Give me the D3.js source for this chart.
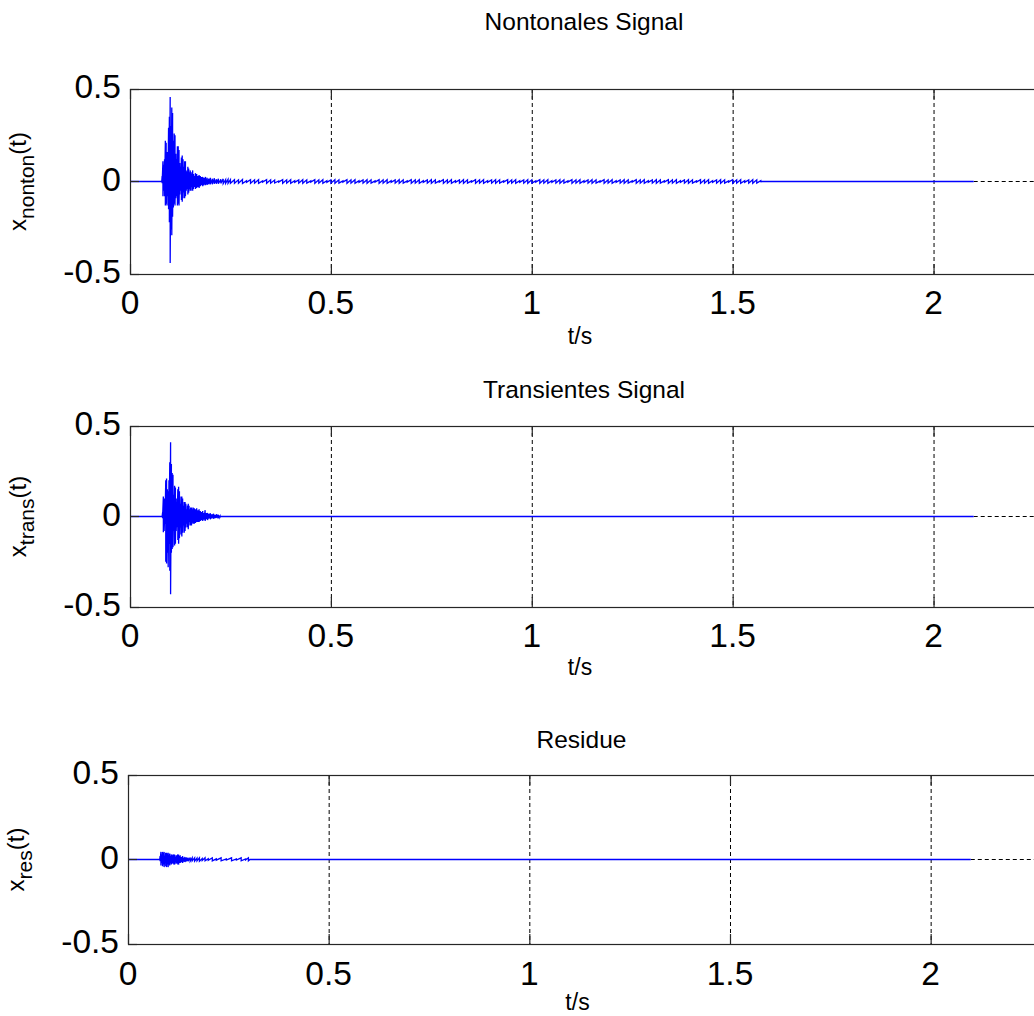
<!DOCTYPE html>
<html><head><meta charset="utf-8">
<script src="https://cdn.jsdelivr.net/npm/d3@7"></script>
<style>body{margin:0;background:#fff;overflow:hidden}</style>
</head><body>
<svg id="c" width="1034" height="1016"></svg>
<script>
// ---- shared axes data ----
const xTicks = [0, 0.5, 1, 1.5, 2];
const xTickLabels = ["0", "0.5", "1", "1.5", "2"];
const yTicks = [-0.5, 0, 0.5];
const yTickLabels = ["-0.5", "0", "0.5"];
const xDomain = [0, 2.26];
const yDomain = [-0.5, 0.5];
const signalEnd = 2.1;
const titles = ["Nontonales Signal", "Transientes Signal", "Residue"];
const ySubs = ["nonton", "trans", "res"];
const xLabel = "t/s";

// ---- Nontonales signal: oscillation peaks (time, upper, lower) ----
const nontonT = [0.080,0.082,0.084,0.086,0.088,0.090,0.092,0.094,0.096,0.098,0.100,0.102,0.104,0.106,0.108,0.110,0.112,0.114,0.116,0.118,0.120,0.122,0.124,0.126,0.128,0.130,0.132,0.134,0.136,0.138,0.140,0.142,0.144,0.146,0.148,0.150,0.152,0.154,0.156,0.158,0.160,0.163,0.166,0.169,0.172,0.175,0.178,0.181,0.184,0.188,0.192,0.196,0.200,0.205,0.210,0.215,0.220,0.226,0.232,0.238,0.244,0.250];
const nontonUp = [0.03,0.11,0.09,0.12,0.22,0.21,0.16,0.14,0.29,0.35,0.457,0.30,0.40,0.37,0.22,0.26,0.25,0.15,0.12,0.19,0.19,0.17,0.10,0.08,0.13,0.14,0.12,0.08,0.11,0.11,0.06,0.05,0.08,0.07,0.05,0.06,0.05,0.04,0.06,0.04,0.03,0.045,0.04,0.03,0.035,0.03,0.025,0.025,0.02,0.025,0.02,0.015,0.02,0.015,0.018,0.012,0.015,0.012,0.014,0.01,0.012,0.01];
const nontonLo = [-0.01,-0.08,-0.05,-0.08,-0.13,-0.12,-0.13,-0.08,-0.15,-0.22,-0.44,-0.26,-0.29,-0.19,-0.14,-0.12,-0.13,-0.09,-0.08,-0.13,-0.12,-0.13,-0.07,-0.05,-0.10,-0.11,-0.09,-0.06,-0.09,-0.08,-0.05,-0.04,-0.07,-0.06,-0.04,-0.05,-0.05,-0.03,-0.05,-0.04,-0.03,-0.04,-0.035,-0.03,-0.035,-0.025,-0.02,-0.025,-0.02,-0.02,-0.018,-0.015,-0.015,-0.015,-0.012,-0.012,-0.012,-0.01,-0.012,-0.01,-0.01,-0.01];
// low-level tail of the nontonal signal (time, amplitude of the small oscillation)
const nontonTailT = [0.26,0.27,0.28,0.29,0.30,0.31,0.32,0.33,0.34,0.35,0.36,0.37,0.38,0.39,0.40,0.41,0.42,0.43,0.44,0.45,0.46,0.47,0.48,0.49,0.50,0.51,0.52,0.53,0.54,0.55,0.56,0.57,0.58,0.59,0.60,0.61,0.62,0.63,0.64,0.65,0.66,0.67,0.68,0.69,0.70,0.71,0.72,0.73,0.74,0.75,0.76,0.77,0.78,0.79,0.80,0.81,0.82,0.83,0.84,0.85,0.86,0.87,0.88,0.89,0.90,0.91,0.92,0.93,0.94,0.95,0.96,0.97,0.98,0.99,1.00,1.01,1.02,1.03,1.04,1.05,1.06,1.07,1.08,1.09,1.10,1.11,1.12,1.13,1.14,1.15,1.16,1.17,1.18,1.19,1.20,1.21,1.22,1.23,1.24,1.25,1.26,1.27,1.28,1.29,1.30,1.31,1.32,1.33,1.34,1.35,1.36,1.37,1.38,1.39,1.40,1.41,1.42,1.43,1.44,1.45,1.46,1.47,1.48,1.49,1.50,1.51,1.52,1.53,1.54,1.55,1.56,1.57];
const nontonTailA = [0.010,0.009,0.011,0.004,0.010,0.009,0.010,0.003,0.010,0.009,0.008,0.003,0.010,0.009,0.010,0.004,0.009,0.010,0.009,0.003,0.010,0.009,0.010,0.004,0.009,0.010,0.009,0.003,0.010,0.009,0.010,0.004,0.009,0.010,0.009,0.003,0.010,0.009,0.010,0.004,0.009,0.010,0.009,0.003,0.010,0.009,0.010,0.004,0.009,0.010,0.009,0.003,0.010,0.009,0.010,0.004,0.009,0.010,0.009,0.003,0.010,0.009,0.010,0.004,0.009,0.010,0.009,0.003,0.010,0.009,0.010,0.004,0.009,0.010,0.009,0.003,0.010,0.009,0.010,0.004,0.009,0.010,0.009,0.003,0.010,0.009,0.010,0.004,0.009,0.010,0.009,0.003,0.010,0.009,0.010,0.004,0.009,0.010,0.009,0.003,0.010,0.009,0.010,0.004,0.009,0.010,0.009,0.003,0.010,0.009,0.010,0.004,0.009,0.010,0.009,0.003,0.010,0.009,0.010,0.004,0.009,0.010,0.009,0.003,0.010,0.009,0.010,0.004,0.009,0.010,0.009,0.004];

// ---- Transientes signal ----
const transT = [0.081,0.083,0.085,0.087,0.089,0.091,0.093,0.095,0.097,0.099,0.101,0.103,0.105,0.107,0.109,0.111,0.113,0.115,0.117,0.119,0.121,0.123,0.125,0.127,0.129,0.131,0.133,0.135,0.137,0.139,0.141,0.143,0.145,0.147,0.149,0.151,0.153,0.155,0.157,0.160,0.163,0.166,0.169,0.172,0.175,0.178,0.181,0.184,0.187,0.190,0.193,0.196,0.200,0.204,0.208,0.212,0.216,0.220,0.224];
const transUp = [0.02,0.11,0.10,0.06,0.20,0.21,0.15,0.14,0.20,0.30,0.41,0.29,0.24,0.23,0.12,0.17,0.16,0.10,0.08,0.15,0.165,0.14,0.07,0.11,0.11,0.10,0.06,0.08,0.08,0.07,0.04,0.06,0.07,0.06,0.04,0.05,0.05,0.04,0.05,0.045,0.04,0.045,0.035,0.04,0.03,0.025,0.03,0.02,0.035,0.02,0.02,0.015,0.018,0.012,0.015,0.01,0.012,0.01,0.004];
const transLo = [-0.01,-0.087,-0.08,-0.04,-0.25,-0.26,-0.20,-0.28,-0.15,-0.30,-0.43,-0.20,-0.18,-0.17,-0.08,-0.16,-0.15,-0.08,-0.06,-0.13,-0.15,-0.12,-0.06,-0.10,-0.11,-0.09,-0.05,-0.09,-0.08,-0.06,-0.04,-0.06,-0.07,-0.05,-0.03,-0.05,-0.05,-0.035,-0.04,-0.04,-0.035,-0.03,-0.03,-0.03,-0.025,-0.02,-0.025,-0.018,-0.025,-0.015,-0.02,-0.012,-0.015,-0.01,-0.012,-0.008,-0.008,-0.006,-0.004];

// ---- Residue ----
const resT = [0.080,0.082,0.084,0.086,0.088,0.090,0.092,0.094,0.096,0.098,0.100,0.102,0.104,0.106,0.108,0.110,0.112,0.114,0.116,0.118,0.120,0.122,0.124,0.126,0.128,0.130,0.133,0.136,0.139,0.142,0.146,0.150,0.155,0.160,0.166,0.172,0.178,0.185,0.192,0.200,0.210,0.220,0.232,0.245,0.258,0.270,0.282,0.293,0.300,0.304];
const resUp = [0.02,0.045,0.03,0.045,0.04,0.045,0.02,0.04,0.04,0.035,0.04,0.03,0.035,0.02,0.03,0.03,0.025,0.03,0.03,0.015,0.025,0.025,0.03,0.03,0.02,0.025,0.015,0.02,0.012,0.015,0.012,0.01,0.012,0.01,0.01,0.008,0.01,0.006,0.01,0.005,0.01,0.004,0.01,0.003,0.01,0.003,0.01,0.003,0.01,0];
const resLo = [-0.01,-0.035,-0.02,-0.04,-0.03,-0.045,-0.02,-0.04,-0.045,-0.03,-0.045,-0.03,-0.035,-0.02,-0.03,-0.025,-0.02,-0.03,-0.03,-0.015,-0.025,-0.02,-0.03,-0.03,-0.02,-0.02,-0.015,-0.02,-0.012,-0.015,-0.01,-0.01,-0.01,-0.008,-0.01,-0.008,-0.01,-0.006,-0.008,-0.005,-0.008,-0.004,-0.008,-0.003,-0.008,-0.003,-0.008,-0.003,-0.008,0];

const signals = [
  {t: nontonT.concat(nontonTailT), up: nontonUp.concat(nontonTailA), lo: nontonLo.concat(nontonTailA.map(a => -a))},
  {t: transT, up: transUp, lo: transLo},
  {t: resT, up: resUp, lo: resLo}
];

// ---- layout ----
const panels = [
  {left: 130, width: 908, top: 89, bottom: 274, titleY: 30, tickLabY: 314, xLabY: 344},
  {left: 130, width: 908, top: 426, bottom: 607, titleY: 398, tickLabY: 647, xLabY: 675},
  {left: 128, width: 907, top: 775, bottom: 944, titleY: 748, tickLabY: 985, xLabY: 1010}
];

const font = "'Liberation Sans', Arial, Helvetica, sans-serif";
const svg = d3.select("#c");

panels.forEach((p, i) => {
  const x = d3.scaleLinear().domain(xDomain).range([p.left, p.left + p.width]);
  const y = d3.scaleLinear().domain(yDomain).range([p.bottom, p.top]);
  const g = svg.append("g");

  // grid (vertical at x ticks; horizontal at y=0 where the signal does not cover it)
  g.append("g").selectAll("line").data(xTicks.filter(d => d > 0)).join("line")
    .attr("x1", d => x(d) + 0.5).attr("x2", d => x(d) + 0.5)
    .attr("y1", y(0.5)).attr("y2", y(-0.5))
    .attr("stroke", "#000").attr("stroke-width", 1).attr("stroke-dasharray", "4,3");
  const y0 = Math.floor(y(0)) + 0.5;
  g.append("line").attr("x1", x(signalEnd)).attr("x2", x(xDomain[1]))
    .attr("y1", y0).attr("y2", y0)
    .attr("stroke", "#000").attr("stroke-width", 1).attr("stroke-dasharray", "4,3");

  // signal
  const s = signals[i];
  const pts = [[0, 0], [s.t[0] - 0.001, 0]];
  s.t.forEach((t, k) => { pts.push([t, s.up[k]]); pts.push([t, s.lo[k]]); });
  pts.push([s.t[s.t.length - 1] + 0.001, 0]);
  pts.push([signalEnd, 0]);
  const half = (p.bottom - p.top) / 2;
  const ys = d3.scaleLinear().domain(yDomain).range([y0 + half, y0 - half]);
  const line = d3.line().x(d => x(d[0])).y(d => ys(d[1]));
  g.append("path").attr("d", line(pts)).attr("fill", "none")
    .attr("stroke", "#0000ff").attr("stroke-width", 1.3).attr("stroke-linejoin", "miter");

  // box
  g.append("rect").attr("x", x(0) + 0.5).attr("y", y(0.5) + 0.5)
    .attr("width", x(xDomain[1]) - x(0)).attr("height", y(-0.5) - y(0.5))
    .attr("fill", "none").attr("stroke", "#262626").attr("stroke-width", 1.2);

  // ticks (inside)
  const tk = g.append("g").attr("stroke", "#262626").attr("stroke-width", 1.2);
  xTicks.forEach(d => {
    tk.append("line").attr("x1", x(d) + 0.5).attr("x2", x(d) + 0.5).attr("y1", y(-0.5)).attr("y2", y(-0.5) - 10);
    tk.append("line").attr("x1", x(d) + 0.5).attr("x2", x(d) + 0.5).attr("y1", y(0.5)).attr("y2", y(0.5) + 10);
  });
  yTicks.forEach(d => {
    tk.append("line").attr("x1", x(0)).attr("x2", x(0) + 9).attr("y1", Math.floor(y(d)) + 0.5).attr("y2", Math.floor(y(d)) + 0.5);
  });

  // tick labels
  g.append("g").selectAll("text").data(xTicks).join("text")
    .attr("x", d => x(d)).attr("y", p.tickLabY)
    .attr("text-anchor", "middle").attr("font-family", font).attr("font-size", 33.5)
    .attr("fill", "#000").text((d, k) => xTickLabels[k]);
  g.append("g").selectAll("text").data(yTicks).join("text")
    .attr("x", x(0) - 9).attr("y", d => y(d) + 9)
    .attr("text-anchor", "end").attr("font-family", font).attr("font-size", 33.5)
    .attr("fill", "#000").text((d, k) => yTickLabels[k]);

  // title
  g.append("text").attr("x", (x(0) + x(xDomain[1])) / 2).attr("y", p.titleY)
    .attr("text-anchor", "middle").attr("font-family", font).attr("font-size", 24.5)
    .attr("fill", "#000").text(titles[i]);

  // x label
  g.append("text").attr("x", (x(0) + x(xDomain[1])) / 2 - 4).attr("y", p.xLabY)
    .attr("text-anchor", "middle").attr("font-family", font).attr("font-size", 23)
    .attr("fill", "#000").text(xLabel);

  // y label
  const yl = g.append("text")
    .attr("transform", `translate(${p.left - 104},${(y(0.5) + y(-0.5)) / 2}) rotate(-90)`)
    .attr("text-anchor", "middle").attr("font-family", font).attr("font-size", 24).attr("fill", "#000");
  yl.append("tspan").text("x");
  yl.append("tspan").attr("dy", 8).attr("font-size", 21).text(ySubs[i]);
  yl.append("tspan").attr("dy", -8).text("(t)");
});
</script>
</body></html>
